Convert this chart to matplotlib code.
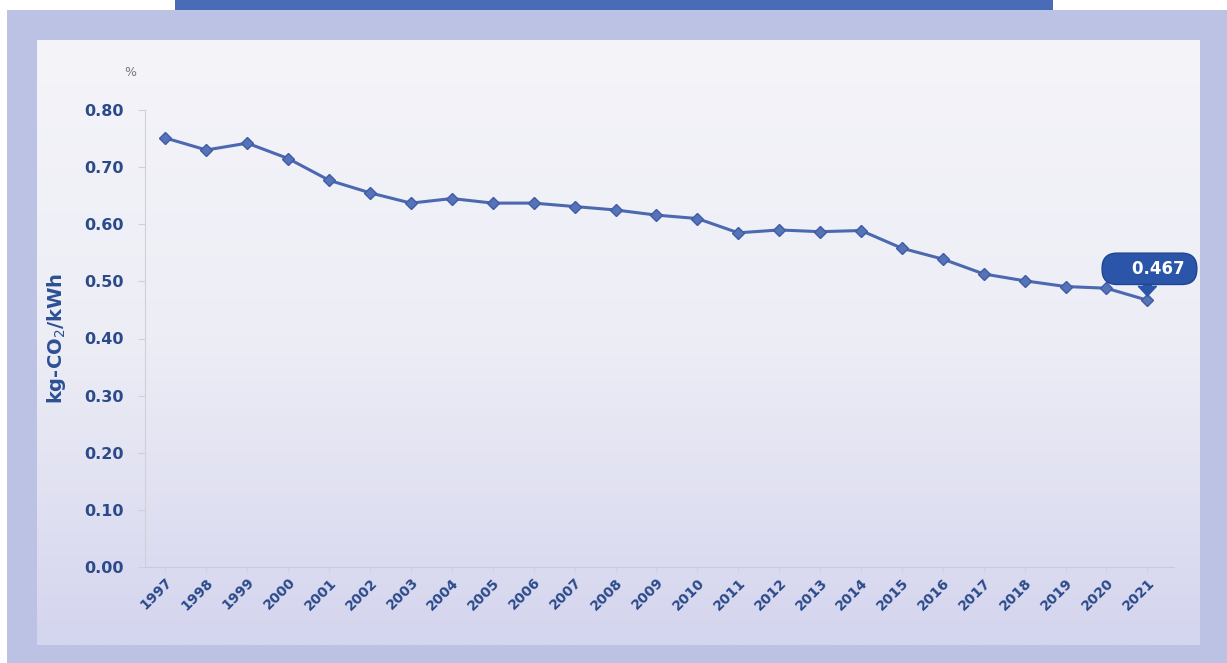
import numpy as np
import matplotlib
matplotlib.use("Agg")
import matplotlib.pyplot as plt
from matplotlib.patches import Rectangle
from matplotlib.colors import LinearSegmentedColormap

# emission factor, kg-CO2/kWh
years = [str(y) for y in range(1997, 2022)]
values = [0.751, 0.730, 0.742, 0.715, 0.677, 0.655, 0.637, 0.645, 0.637, 0.637,
          0.631, 0.625, 0.616, 0.610, 0.585, 0.590, 0.587, 0.589, 0.558, 0.539,
          0.513, 0.501, 0.491, 0.488, 0.467]
yticks = [0.0, 0.1, 0.2, 0.3, 0.4, 0.5, 0.6, 0.7, 0.8]
last_label = "0.467"

W, H = 1227, 663
fig = plt.figure(figsize=(W / 100, H / 100), dpi=100)
fig.patch.set_facecolor("white")

def px(x0, y0, x1, y1):
    # pixel box -> figure fraction [left, bottom, width, height]
    return [x0 / W, 1 - y1 / H, (x1 - x0) / W, (y1 - y0) / H]

# frame
fig.patches.append(Rectangle((7 / W, 0), 1, 1 - 10 / H, transform=fig.transFigure,
                             facecolor="#bcc2e3", edgecolor="none", zorder=-5))
fig.patches.append(Rectangle((175 / W, 1 - 10 / H), (1053 - 175) / W, 10 / H,
                             transform=fig.transFigure, facecolor="#4a6cb6",
                             edgecolor="none", zorder=-5))

# inner panel with vertical gradient
bg = fig.add_axes(px(37, 40, 1200, 645), zorder=0)
cmap = LinearSegmentedColormap.from_list("panel", ["#f4f4f9", "#ededf6", "#d4d5ee"])
bg.imshow(np.linspace(0, 1, 256).reshape(-1, 1), aspect="auto", cmap=cmap,
          extent=[0, 1, 0, 1], origin="upper")
bg.axis("off")

ax = fig.add_axes(px(145, 110, 1174, 567), zorder=1)
ax.patch.set_alpha(0)

x = np.arange(len(years))
ax.plot(x, values, color="#4b68b0", lw=2.2, marker="D", ms=6,
        markerfacecolor="#5672b8", markeredgecolor="#3f5ca4", zorder=3)

ax.set_xlim(-0.5, 24.65)
ax.set_ylim(0, 0.8)
ax.set_yticks(yticks)
ax.set_yticklabels(["%.2f" % v for v in yticks])
ax.set_xticks(x)
ax.set_xticklabels(years, rotation=45, ha="right", va="top", rotation_mode="anchor")

navy = "#2b4a8a"
for lab in ax.get_yticklabels():
    lab.set_fontsize(11.5)
    lab.set_fontweight("bold")
    lab.set_color(navy)
for lab in ax.get_xticklabels():
    lab.set_fontsize(10)
    lab.set_fontweight("bold")
    lab.set_color(navy)

ax.tick_params(axis="y", length=5, color="#d0d0d8", pad=10)
ax.tick_params(axis="x", length=4, color="#d8d0dc", pad=2)
for s in ["top", "right"]:
    ax.spines[s].set_visible(False)
ax.spines["left"].set_color("#d0d0d8")
ax.spines["bottom"].set_color("#c8c8de")

ax.set_ylabel("kg-CO$_2$/kWh", fontsize=14, fontweight="bold", color="#2c5094", labelpad=12)
fig.text(130 / W, 1 - 72 / H, "%", fontsize=9, color="#777777", ha="center", va="center")

# callout on last point
ax.annotate("", xy=(x[-1], values[-1]), xytext=(x[-1], values[-1] + 0.03),
            arrowprops=dict(arrowstyle="simple,head_width=1.3,head_length=0.7,tail_width=0.55",
                            color="#2a55a8", shrinkA=0, shrinkB=3), zorder=4)
ax.text(x[-1] + 0.05, values[-1] + 0.055, "    " + last_label + " ", fontsize=12,
        fontweight="bold", color="white", ha="center", va="center", zorder=5,
        bbox=dict(boxstyle="round,pad=0.4,rounding_size=0.9", facecolor="#2a55a8",
                  edgecolor="#1f4590"))

fig.savefig("out.png", dpi=100)
